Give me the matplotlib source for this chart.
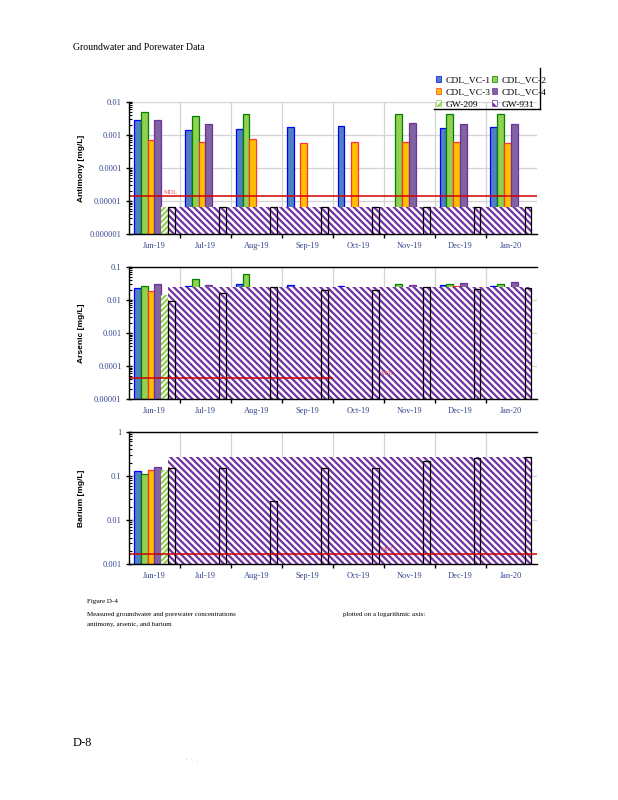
import numpy as np
import matplotlib
matplotlib.use("Agg")
import matplotlib.pyplot as plt
from matplotlib.patches import Patch
from matplotlib.lines import Line2D
from matplotlib.ticker import LogLocator, NullFormatter

nan = np.nan

months = ['Jun-19', 'Jul-19', 'Aug-19', 'Sep-19', 'Oct-19', 'Nov-19', 'Dec-19', 'Jan-20']
series = ['CDL_VC-1', 'CDL_VC-2', 'CDL_VC-3', 'CDL_VC-4', 'GW-209', 'GW-931']

# antimony
sb_vc1 = [0.00275, 0.00138, 0.00148, 0.0017, 0.0018, nan, 0.0016, 0.0017]
sb_vc2 = [0.0048, 0.0037, 0.0043, nan, nan, 0.0042, 0.0042, 0.0042]
sb_vc3 = [0.00071, 0.00061, 0.00076, 0.00057, 0.0006, 0.0006, 0.0006, 0.00057]
sb_vc4 = [0.00275, 0.0021, nan, nan, nan, 0.0023, 0.0021, 0.0021]
sb_gw209 = [6.7e-6, nan, nan, nan, nan, nan, nan, nan]
sb_gw931 = [6.7e-6, 6.7e-6, 6.7e-6, 6.7e-6, 6.7e-6, 6.7e-6, 6.7e-6, 6.7e-6]
sb_mdl = 1.4e-5

# arsenic
as_vc1 = [0.0229, 0.0257, 0.0295, 0.0275, 0.0257, 0.020, 0.0275, 0.0257]
as_vc2 = [0.0257, 0.043, 0.059, 0.020, 0.020, 0.0295, 0.0295, 0.0295]
as_vc3 = [0.018, 0.019, 0.019, 0.018, 0.018, 0.019, 0.0257, 0.020]
as_vc4 = [0.0295, 0.0275, 0.021, 0.020, 0.020, 0.0275, 0.0315, 0.034]
as_gw209 = [0.014, nan, nan, nan, nan, nan, nan, nan]
as_gw931 = [0.0091, 0.0158, 0.024, 0.0195, 0.0195, 0.024, 0.021, 0.0224]
as_mdl = 4.4e-5

# barium
ba_vc1 = [0.129, 0.12, 0.11, 0.13, 0.12, 0.14, 0.13, 0.12]
ba_vc2 = [0.110, 0.10, 0.10, 0.11, 0.10, 0.12, 0.11, 0.10]
ba_vc3 = [0.136, 0.13, 0.12, 0.13, 0.13, 0.14, 0.13, 0.13]
ba_vc4 = [0.159, 0.15, 0.14, 0.15, 0.15, 0.16, 0.15, 0.15]
ba_gw209 = [0.136, nan, nan, nan, nan, nan, nan, nan]
ba_gw931 = [0.153, 0.15, 0.027, 0.153, 0.153, 0.214, 0.25, 0.263]
ba_mdl = 0.0017

sb_ticks = ['0.000001', '0.00001', '0.0001', '0.001', '0.01']
as_ticks = ['0.00001', '0.0001', '0.001', '0.01', '0.1']
ba_ticks = ['0.001', '0.01', '0.1', '1']

fills = ['#4F81BD', '#92D050', '#FFC000', '#8064A2']
edges = ['#0000FF', '#008000', '#FF3333', '#7030A0']
purple = '#7030A0'
green = '#92D050'
tickcol = '#34458f'
serif = 'Liberation Serif'
hatch931 = '\\' * 5
hatch209 = '/' * 6

plt.rcParams['hatch.linewidth'] = 1.6

panels = [
    ('Antimony [mg/L]', [sb_vc1, sb_vc2, sb_vc3, sb_vc4], sb_gw209, sb_gw931, sb_mdl, sb_ticks, False, 1.0, 0.18),
    ('Arsenic [mg/L]', [as_vc1, as_vc2, as_vc3, as_vc4], as_gw209, as_gw931, as_mdl, as_ticks, True, 0.497, 4.43),
    ('Barium [mg/L]', [ba_vc1, ba_vc2, ba_vc3, ba_vc4], ba_gw209, ba_gw931, ba_mdl, ba_ticks, True, 1.0, 4.43),
]
boxes = [(0.2092, 0.7071, 0.6592, 0.1658),
         (0.2092, 0.5009, 0.6592, 0.1657),
         (0.2092, 0.2946, 0.6592, 0.1658)]

fig = plt.figure(figsize=(6.18, 8), dpi=100)
x = np.arange(len(months))
w = 0.134
offs = [-0.341 + k * w for k in range(6)]

for (ylab, vcs, g209, g931, mdl, tlabs, topspine, mdl_xmax, mdl_tx), box in zip(panels, boxes):
    ax = fig.add_axes(box)
    ax.set_yscale('log')
    yt = [float(t) for t in tlabs]
    ymin, ymax = yt[0], yt[-1]
    ax.set_ylim(ymin, ymax)
    ax.set_xlim(-0.5, len(months) - 0.5)

    for k, vals in enumerate(vcs):
        v = np.array(vals, dtype=float)
        ax.bar(x + offs[k], v - ymin, width=w, bottom=ymin, color=fills[k],
               edgecolor=edges[k], linewidth=0.9, zorder=2)
    v = np.array(g209, dtype=float)
    ax.bar(x + offs[4], v - ymin, width=w, bottom=ymin, color='white',
           edgecolor=green, hatch=hatch209, linewidth=0, zorder=2)
    # GW-931 hatch band (runs across all months in the source chart)
    g = np.array(g931, dtype=float)
    left = x[0] + offs[5] - w / 2
    right = x[-1] + offs[5] + w / 2
    ax.bar([left], [np.nanmax(g) - ymin], width=right - left, bottom=ymin,
           align='edge', color='white', edgecolor=purple, hatch=hatch931,
           linewidth=0, zorder=3)
    ax.bar(x + offs[5], g - ymin, width=w, bottom=ymin, facecolor='none',
           edgecolor='black', linewidth=0.9, zorder=4)

    ax.axhline(mdl, xmin=0, xmax=mdl_xmax, color='#D00000', lw=1.1, zorder=5)
    ax.annotate('MDL', (mdl_tx, mdl), xytext=(0, 2), textcoords='offset points',
                fontsize=4.5, color='#E05060', family=serif, zorder=6)

    ax.set_yticks(yt)
    ax.set_yticklabels(tlabs)
    ax.yaxis.set_minor_locator(LogLocator(base=10, subs=np.arange(2, 10)))
    ax.yaxis.set_minor_formatter(NullFormatter())
    ax.tick_params(axis='y', which='major', direction='inout', length=5, width=1,
                   labelsize=6, labelcolor=tickcol, pad=3)
    ax.tick_params(axis='y', which='minor', direction='in', length=2.5, width=0.8)
    for t in ax.get_yticklabels():
        t.set_family(serif)

    ax.set_xticks(x)
    ax.set_xticklabels(months)
    ax.set_xticks(x[:-1] + 0.5, minor=True)
    ax.tick_params(axis='x', which='major', length=0, pad=5.5, labelsize=6,
                   labelcolor=tickcol)
    ax.tick_params(axis='x', which='minor', direction='out', length=3, width=1)
    for t in ax.get_xticklabels():
        t.set_family(serif)

    ax.grid(True, axis='y', which='major', color='#d4d4d4', lw=0.9, zorder=0)
    ax.grid(True, axis='x', which='minor', color='#d4d4d4', lw=0.9, zorder=0)
    ax.set_axisbelow(True)

    ax.spines['right'].set_visible(False)
    ax.spines['top'].set_visible(topspine)
    for s in ['left', 'bottom', 'top']:
        ax.spines[s].set_linewidth(1.0)
        ax.spines[s].set_zorder(6)

    ax.set_ylabel(ylab, fontsize=6, family='Liberation Sans', fontweight='bold')
    ax.yaxis.set_label_coords(-0.109, 0.5)

# legend
handles = [
    Patch(facecolor=fills[0], edgecolor=edges[0], linewidth=0.5),
    Patch(facecolor=fills[2], edgecolor=edges[2], linewidth=0.5),
    Patch(facecolor='white', edgecolor=green, hatch='///', linewidth=0.5),
    Patch(facecolor=fills[1], edgecolor=edges[1], linewidth=0.5),
    Patch(facecolor=fills[3], edgecolor=edges[3], linewidth=0.5),
    Patch(facecolor='white', edgecolor=purple, hatch='\\\\\\', linewidth=0.5),
]
labels = [series[0], series[2], series[4], series[1], series[3], series[5]]
fig.legend(handles, labels, loc='upper left', bbox_to_anchor=(0.7055, 0.9045),
           ncol=2, frameon=False, prop={'family': serif, 'size': 6.8},
           handlelength=0.55, handleheight=0.55, handletextpad=0.5,
           columnspacing=0.1, labelspacing=0.4, borderpad=0, borderaxespad=0)
fig.add_artist(Line2D([434 / 618, 540 / 618], [1 - 109 / 800, 1 - 109 / 800],
                      color='black', lw=1.0))
fig.add_artist(Line2D([540 / 618, 540 / 618], [1 - 109 / 800, 1 - 68 / 800],
                      color='black', lw=1.0))

# page text
fig.text(73 / 618, 1 - 48 / 800, 'Groundwater and Porewater Data', fontsize=7,
         family=serif, va='center')
fig.text(87 / 618, 1 - 601.7 / 800, 'Figure D-4', fontsize=5, family=serif, va='center')
fig.text(87 / 618, 1 - 614.7 / 800, 'Measured groundwater and porewater concentrations',
         fontsize=5, family=serif, va='center')
fig.text(342.7 / 618, 1 - 614.7 / 800, 'plotted on a logarithmic axis:', fontsize=5,
         family=serif, va='center')
fig.text(87 / 618, 1 - 624.3 / 800, 'antimony, arsenic, and barium', fontsize=5,
         family=serif, va='center')
fig.text(73 / 618, 1 - 743.3 / 800, 'D-8', fontsize=9, family=serif, va='center')
fig.text(186 / 618, 1 - 761 / 800, "'   :   .", fontsize=4, color='#999999',
         family=serif, va='center')

fig.savefig('out.png', dpi=100)
